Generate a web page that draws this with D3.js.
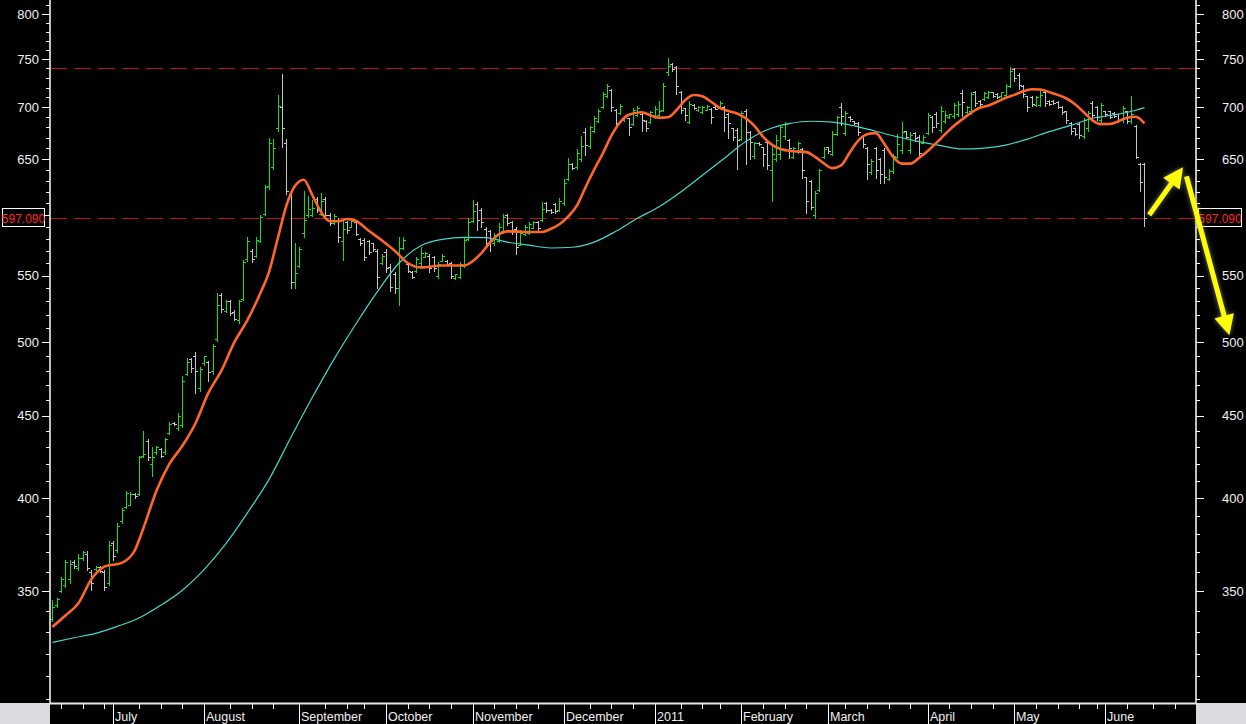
<!DOCTYPE html>
<html><head><meta charset="utf-8">
<script src="https://cdn.jsdelivr.net/npm/d3@7"></script>
<style>
html,body{margin:0;padding:0;background:#000;overflow:hidden;}
svg{display:block;}
text{font-family:Arial,"Liberation Sans",sans-serif;}
</style></head><body>
<svg id="chart" width="1246" height="724"></svg>
<script>
// ---------------- DATA (daily OHLC, index 0 = first visible trading day) ----------------
const opens = [336.5,343,350,353,356,365,362,367,369,360,361.5,362.5,360,354,375,371,387,395,396,402.5,
402,424.5,434,420,427,429,427,439,445.5,442,444,478,488,490,468,485,486,480,502,535,
523,530,522,516,532,563,570,566,578,601,625,643,679,700,665,618,545,558,585,600,
600,614,601,614,600,593,596,578,594,590,594,580,579,578,576,570,560,569,557,551,
540,572,559,553,554,560,565,566,565,550,562,562,560,548,549,558,580,595,609,604,
588,586,576,578,586,600,594,588,575,584,585,589,594,596,610,604.5,609,604,610,632,
645,643,650,676,662,677,686,700,711,718,697,694,687,689,683,692,693,686,685,690,
692,697,736,745,741,715,699,685,702.5,697,695,697.5,698,700.5,699.5,700,693,679,678,669,
696,676,653,665.5,661,666,640,650,655,672,668,652,657,659,633,630,600,622,652,661,
655,674,700,675,690.5,686,684,672,660,638,660,650,658,632,639,652,658,676.5,658,675,
671,665,675,690,693,678,686,690,691,693,714,695,696,715,706,708,710,715,713.5,711,
712,722,739,733,722,711,710,702,702,715,706.5,706.5,705.5,700,696,684,679,683,672,679,
704,700,687,696,696,694.5,693,687,696,686,681,645,645];
const highs = [345.8,346.7,357,366,366,366,369,370.5,370.5,361,363,363,361,376,376,386,394.5,404,403.5,403,
425,440,435.5,430,431,429.5,435.6,446,446,451.5,476.6,489,489,493,482.6,490.5,487,498.8,536.6,536.6,
531,531,523.6,531,562.6,581,571,581,600,626,670,669,712,734,669,619.6,576.6,573,621,616.7,
613,615.7,619,615.7,602,601,597,595,595,596,595,580.5,580.5,579,576.6,571,567,571,559,552.5,
581,581,560,554,565,573,568.6,567,566,560.6,567,562.6,561,551.5,560.6,580.5,597,613,611,605.6,
589.6,587,585,593,601,601,595,589.6,587,591,593.6,595,595,611,611,604.8,610,614.8,631.6,651,
646,659,672,679.5,681.7,691.4,698,715.5,723.6,719,698,703,691.4,689.5,699,701,694.6,687,696.6,701,
706,724.6,751,745.5,742.6,716.7,699,706,703,701,701,702,699,701,706,701,694.6,679.5,679.5,696.6,
698,677,666,666,661.5,668,661.5,672.5,682,685,669,661.5,666,660,633.5,631,621,641,661.5,661.5,
677,691.4,704,696.6,691,686.6,685,672.5,661.5,650,661.5,651,660,641,655,674,685,677,675.5,675.5,
672.5,672.5,694.6,691.4,695,701,696.6,693.7,704,706,718,701,715.5,716.7,707,715.5,716.7,715.5,714,715.5,
723.6,741.5,740.4,735,722.5,711.6,711.6,711.6,718,716.7,707,707,706,701,696.6,685,679.5,685,689.5,696.6,
706,701,704,696.6,696.6,695,693.7,701,696.6,711.6,682,646,646];
const lows = [335.5,342.4,349.5,352,354,362,361,366,361,350.5,361,360,350.5,353,366,370,386,394.5,396,400,
401.5,424,422.5,413,426,424,426,438.6,444,441,443,477,479,465,466,484,473,478,501,522,
522,520,516,514,531,562,561,565,577,600,623,641,677,661,618.6,540,540,557,581,598,
599,602.4,600,597,591,592,577,562.6,585,589.6,583,575,562.6,567,569.5,540,559,552.5,538,536.6,
527,571,552.5,548,552.5,557,564.6,552.5,554,548.4,561.5,558.8,548.4,547.5,548.4,557,579,593.6,587,589.6,
573,569.5,574.7,577,585,591,584,567,574.7,583,584,588.8,587,595,602.4,602,602,603.2,608.8,630.8,
641,641,648,654,660,675.5,685,699,710.6,696,682,693.7,686.6,672.5,682,691.4,677,677,684,689.5,
691,696,733.5,737.6,713.6,694.6,687,684,698,696.6,694.6,697,684,698,699,677,670,668,641,668,
645,650,651,663.5,643.4,641,612.3,648,650,669,651,651,656,632.6,602,604.8,597,621,651,656,
653.5,672.5,682,672.5,686.6,683.5,672.5,661.5,631.6,636.5,632.6,628,628,630.8,637.5,651,656,669.5,656,667,
653.5,664.6,674,675.5,680,675.5,684,689.5,689.5,691.4,691.4,693.7,693.7,701,701,707,709,710,709,710,
711.6,721,727,719,710.6,696.6,701,701,701,701,702,703,699,693.7,684,674,672.5,669.5,669.5,677,
686,687,685,691.4,689,690,685.8,685.8,684,684,651,620.6,590.5];
const closes = [342,346,356,365,364,363,367,370,362,354,362.5,360.5,352,374,368,384,393,403,402,401,
424,426,424,424,430,425,435,445,444.5,450,473,486,482,480,481,490,479,497,527,524,
530,521,517,530,561,578,563,579,598,624,665,660,701,679,621,545,552,571,596,605,
606,604,612,600,593,599,581,588,587,595,584,576,565,569,571,549,566,556,541,540,
572,579,554,549,563,568,568,556,556,559,566,559.5,550,551,559,579,594,603,596,594,
576,578,583,590,598,593,587,573,585,590,592,594,589,605,604,602.5,603,612,628,645,
642,656,662,663,680,689,696,713,722,700,684,701,690,680,697,699,687,679,695,698,
696,722,743,739,722,697,692,703,699,700.5,700,701,690,698.5,704,690,684,671,668,694,
676,666,665,664,655,644,655,668,680,683,660,660,665,640,612,607,619,640,659,657,
674,690,691,694,688,684,676,664,645,648,640,636,633,639,653,664,676,671,673,670,
656,671,692,680,684,696,692,693,702,703,705,700,713,704,703,714,715,711,710,715,
722,737,730,723,713,700,703,710,712,704,703,704,700,695,687,677,674,673,687,694,
692,690,702,693,690,691,687,699,686,693,652,629,597.09];

// short moving average (orange), read at sampled bar indices
const orangeIdx = [0,3,6,9,12,16,19,21,24,27,30,33,36,39,42,45,48,50,52,54,56,58,60,62,64,66,68,70,73,76,79,82,85,90,95,97,99,101,103,105,110,113,115,117,119,121,123,125,127,129,131,133,136,138,140,142,144,146,148,150,152,154,156,158,160,162,164,166,168,171,174,176,178,180,182,184,186,188,190,192,194,196,198,200,202,204,206,208,210,212,214,216,218,220,222,224,226,228,230,232,234,236,238,240,242,244,246,248,250,252];
const orangeVal = [332.5,338,344,356,362.5,364.5,371,383,404,420,431,445,465,480,500,516,536.5,553,580,608,625.5,631,617,602.5,594.5,594.5,596.5,595,586.5,578.5,570,560,556.5,558,558,561.5,568,576.7,583.5,586,585.5,585.5,588,592,598.5,607.7,624,640,655,672,685.1,692.5,695,692,689.5,690,697,707,712.4,711,705.5,699.3,696.2,693.8,689,681.5,671,663.5,659.3,657.2,656.4,652,646,641.5,644,656,667.5,673.5,674.5,664,652,645.7,645.7,651,657.5,665.2,673.5,681.5,688,694.5,699.5,701.8,705.5,709.5,712.5,716.2,718.3,718,715.3,712.5,708.8,703,695,687,683.3,683.4,686.2,689.5,690.5,684];
// long moving average (cyan)
const cyanIdx = [0,5,10,15,20,25,30,35,40,45,50,55,60,65,70,75,80,85,90,95,100,105,110,115,120,125,130,135,140,145,150,155,160,165,170,175,180,185,190,195,200,205,210,215,220,225,230,235,240,245,250,252];
const cyanVal = [325.2,327.4,329.5,332.8,336.8,343,350.5,361,374.5,391.5,410.8,436,462,488,513,537.5,560,574,579.3,581,580.8,577,574.5,572.2,572.8,577,586,597,607,620,635,650.5,666.5,677.8,683.7,686.1,685.2,681.6,676.3,671,666.4,662.5,659.4,660.2,663,668.7,675.9,682,689,692.3,697,699.6];

const monthLabels = ["July","August","September","October","November","December","2011","February","March","April","May","June"];
const monthStarts = [14,35,57,77,97,118,139,159,179,202,222,243];
const weekTicks = [2,7,12,20,25,30,41,46,51,63,68,72,82,87,92,102,107,112,124,129,134,145,150,154,164,169,174,183,188,193,198,207,212,217,227,232,237,241,248,254,259];
const majorTicks = [350,400,450,500,550,600,650,700,750,800];
const majorLabels = ["350","400","450","500","550","","650","700","750","800"];
const minorTicks = d3.range(300, 811, 10);
const levelValues = [740, 597.09];
const lastLabel = "597.090";
// annotation arrows, in (bar index, price) space
const arrowFrom = [[253.1, 600], [261.7, 634]];
const arrowTo   = [[260.9, 642.3], [271.6, 505]];

// ---------------- CHART ----------------
const W = 1246, H = 724;
const pL = 50, pR = 1196, pT = 0, pB = 703;
const svg = d3.select("#chart");
svg.append("rect").attr("width", W).attr("height", H).attr("fill", "#000");

const x = d3.scaleLinear().domain([-0.55, 263.9]).range([pL, pR]);
const y = d3.scaleLog().domain([298.2, 816.2]).range([pB, pT]);

const defs = svg.append("defs");
defs.append("clipPath").attr("id", "plotClip").append("rect")
  .attr("x", pL).attr("y", pT).attr("width", pR - pL).attr("height", pB - pT);
const glow = defs.append("filter").attr("id", "glow").attr("x", "-50%").attr("y", "-50%").attr("width", "200%").attr("height", "200%");
glow.append("feGaussianBlur").attr("in", "SourceAlpha").attr("stdDeviation", 2.5).attr("result", "b");
glow.append("feFlood").attr("flood-color", "#9a9a9a").attr("flood-opacity", 0.8);
glow.append("feComposite").attr("in2", "b").attr("operator", "in").attr("result", "s");
const gm = glow.append("feMerge");
gm.append("feMergeNode").attr("in", "s");
gm.append("feMergeNode").attr("in", "SourceGraphic");

const plot = svg.append("g").attr("clip-path", "url(#plotClip)");

// dashed level lines
plot.selectAll("line.level").data(levelValues).join("line")
  .attr("class", "level")
  .attr("x1", pL).attr("x2", pR)
  .attr("y1", d => Math.round(y(d)) + 0.5).attr("y2", d => Math.round(y(d)) + 0.5)
  .attr("stroke", "#b41616").attr("stroke-width", 1).attr("stroke-dasharray", "17,7");

// OHLC bars
const bars = opens.map((o, i) => ({i, o, h: highs[i], l: lows[i], c: closes[i]}));
const colorOf = d => d.c >= d.o ? "#12e012" : "#c4c4c4";
const bg = plot.append("g").attr("shape-rendering", "crispEdges");
const barG = bg.selectAll("g.bar").data(bars).join("g").attr("class", "bar")
  .attr("stroke", colorOf).attr("stroke-width", 1);
barG.append("line")
  .attr("x1", d => Math.round(x(d.i)) + 0.5).attr("x2", d => Math.round(x(d.i)) + 0.5)
  .attr("y1", d => Math.round(y(d.h))).attr("y2", d => Math.round(y(d.l)) + 1);
barG.append("line")
  .attr("x1", d => Math.round(x(d.i)) - 2).attr("x2", d => Math.round(x(d.i)))
  .attr("y1", d => Math.round(y(d.o)) + 0.5).attr("y2", d => Math.round(y(d.o)) + 0.5);
barG.append("line")
  .attr("x1", d => Math.round(x(d.i)) + 1).attr("x2", d => Math.round(x(d.i)) + 3)
  .attr("y1", d => Math.round(y(d.c)) + 0.5).attr("y2", d => Math.round(y(d.c)) + 0.5);

// moving averages
const line = d3.line().x(d => x(d[0])).y(d => y(d[1])).curve(d3.curveMonotoneX);
plot.append("path").datum(cyanIdx.map((k, j) => [k, cyanVal[j]]))
  .attr("d", line).attr("fill", "none").attr("stroke", "#44d8cc").attr("stroke-width", 1.2);
plot.append("path").datum(orangeIdx.map((k, j) => [k, orangeVal[j]]))
  .attr("d", line).attr("fill", "none").attr("stroke", "#ff6628").attr("stroke-width", 2.6);

// ---------------- Y AXES ----------------
function yAxis(gen, xpos, side) {
  const gMinor = svg.append("g").attr("transform", `translate(${xpos},0)`)
    .call(gen(y).tickValues(minorTicks).tickSize(4).tickSizeOuter(0).tickFormat(""));
  gMinor.select(".domain").remove();
  gMinor.selectAll("line").attr("stroke", "#fff").attr("shape-rendering", "crispEdges");
  const gMajor = svg.append("g").attr("transform", `translate(${xpos},0)`)
    .call(gen(y).tickValues(majorTicks).tickSize(8).tickSizeOuter(0)
      .tickPadding(side === "left" ? 3 : 18)
      .tickFormat((d, k) => majorLabels[k]));
  gMajor.select(".domain").remove();
  gMajor.selectAll("line").attr("stroke", "#fff").attr("shape-rendering", "crispEdges");
  gMajor.selectAll("text").attr("fill", "#f0f0f0").attr("font-size", 13)
    .attr("font-family", "Arial, 'Liberation Sans', sans-serif");
  svg.append("line").attr("x1", xpos).attr("x2", xpos).attr("y1", 0).attr("y2", pB)
    .attr("stroke", "#fff").attr("stroke-width", 1.5);
}
yAxis(d3.axisLeft, pL, "left");
yAxis(d3.axisRight, pR, "right");

// last value boxes
const ly = y(levelValues[1]);
[[2.5, 42], [1198.5, 43]].forEach(([bx, bw]) => {
  svg.append("rect").attr("x", bx).attr("y", Math.round(ly) - 9.5).attr("width", bw).attr("height", 18)
    .attr("fill", "#000").attr("stroke", "#fff").attr("stroke-width", 1);
  svg.append("text").attr("x", bx + bw / 2).attr("y", ly).attr("dy", "0.36em")
    .attr("text-anchor", "middle").attr("fill", "#ff2222").attr("font-size", 12).text(lastLabel);
});

// ---------------- X AXIS STRIP ----------------
svg.append("rect").attr("x", 0).attr("y", pB).attr("width", pL).attr("height", H - pB).attr("fill", "#dadae0");
svg.append("rect").attr("x", pR).attr("y", pB).attr("width", W - pR).attr("height", H - pB).attr("fill", "#dadae0");
svg.append("line").attr("x1", pL).attr("x2", pR).attr("y1", pB + 0.5).attr("y2", pB + 0.5)
  .attr("stroke", "#e6e6e6").attr("stroke-width", 2);

const xa = svg.append("g").attr("shape-rendering", "crispEdges");
xa.selectAll("line.wk").data(weekTicks.filter(k => x(k) < pR - 1)).join("line").attr("class", "wk")
  .attr("x1", d => Math.round(x(d)) + 0.5).attr("x2", d => Math.round(x(d)) + 0.5)
  .attr("y1", pB + 1).attr("y2", pB + 6).attr("stroke", "#fff");
xa.selectAll("line.mo").data(monthStarts).join("line").attr("class", "mo")
  .attr("x1", d => Math.round(x(d)) + 0.5).attr("x2", d => Math.round(x(d)) + 0.5)
  .attr("y1", pB + 1).attr("y2", H).attr("stroke", "#fff");
svg.selectAll("text.mo").data(monthStarts).join("text").attr("class", "mo")
  .attr("x", d => Math.round(x(d)) + 2).attr("y", 721)
  .attr("fill", "#f0f0f0").attr("font-size", 12.5)
  .text((d, k) => monthLabels[k]);

// ---------------- ARROWS ----------------
const ag = svg.append("g").attr("filter", "url(#glow)");
arrowFrom.forEach((f, k) => {
  const x0 = x(f[0]), y0 = y(f[1]), x1 = x(arrowTo[k][0]), y1 = y(arrowTo[k][1]);
  const dx = x1 - x0, dy = y1 - y0, len = Math.hypot(dx, dy);
  const ux = dx / len, uy = dy / len, nx = -uy, ny = ux;
  const hl = 20, hw = 10;
  const bx = x1 - ux * hl, by = y1 - uy * hl;
  ag.append("line").attr("x1", x0).attr("y1", y0).attr("x2", bx + ux * 2).attr("y2", by + uy * 2)
    .attr("stroke", "#ffff00").attr("stroke-width", 5);
  ag.append("path")
    .attr("d", `M${x1},${y1}L${bx + nx * hw},${by + ny * hw}L${bx - nx * hw},${by - ny * hw}Z`)
    .attr("fill", "#ffff00");
});
</script>
</body></html>
